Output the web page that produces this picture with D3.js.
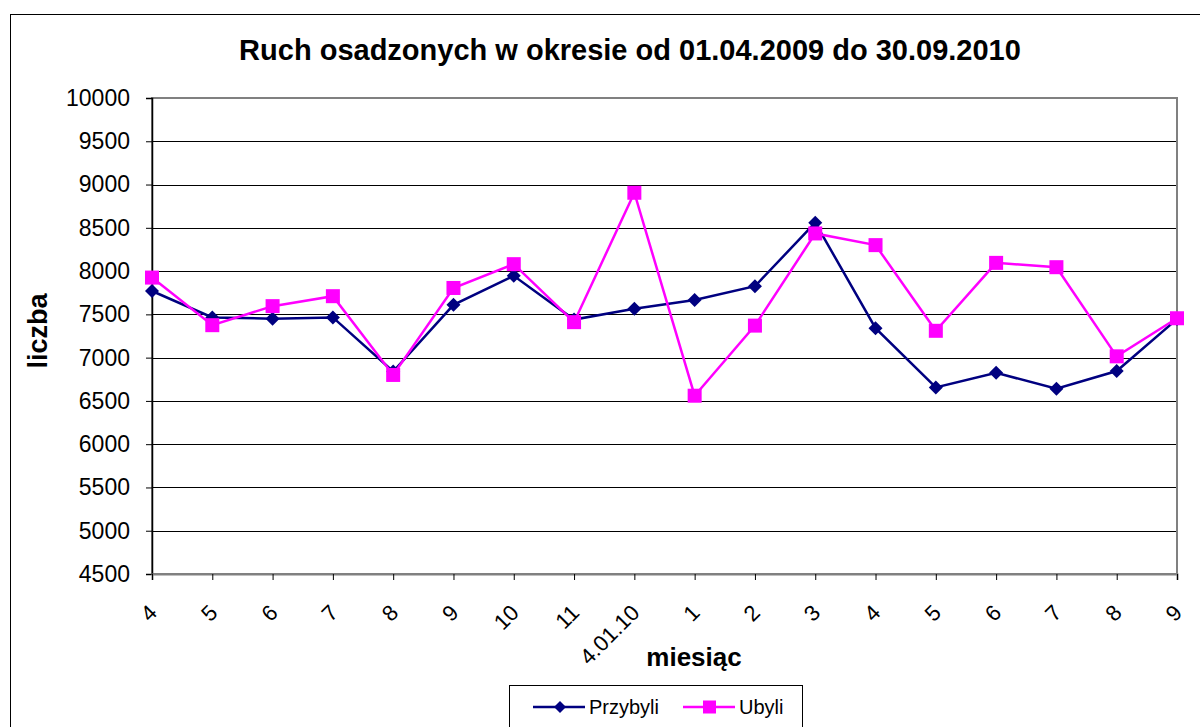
<!DOCTYPE html>
<html>
<head>
<meta charset="utf-8">
<script src="https://cdn.jsdelivr.net/npm/d3@7"></script>
<style>
  body { margin: 0; background: #fff; }
  svg text { font-family: "Liberation Sans", Arial, sans-serif; }
</style>
</head>
<body>
<div id="chart"></div>
<script>
(function () {

  // months, 04.2009 - 09.2010
  var months = ["4", "5", "6", "7", "8", "9", "10", "11", "4.01.10", "1", "2", "3", "4", "5", "6", "7", "8", "9"]
  var przybyli = [7770, 7465, 7450, 7465, 6840, 7610, 7945, 7440, 7565, 7665, 7825, 8560, 7340, 6655, 6825, 6640, 6845, 7445]
  var ubyli = [7925, 7375, 7595, 7710, 6800, 7805, 8080, 7410, 8905, 6560, 7370, 8435, 8300, 7310, 8095, 8045, 7015, 7455]
  var yTicks = [4500, 5000, 5500, 6000, 6500, 7000, 7500, 8000, 8500, 9000, 9500, 10000]

  var margin = { top: 98, left: 152, right: 23, bottom: 153 },
      width = 1200 - margin.left - margin.right,
      height = 727 - margin.top - margin.bottom

  var svg = d3.select("#chart")
      .append("svg")
      .attr("width", 1200)
      .attr("height", 727)

  // outer frame
  svg.append("rect")
     .attr("x", 10.5)
     .attr("y", 14.5)
     .attr("width", 1200)
     .attr("height", 800)
     .attr("fill", "none")
     .attr("stroke", "#000")
     .attr("stroke-width", 1)

  var g = svg.append("g")
      .attr("transform", "translate(" + margin.left + "," + margin.top + ")")

  var xPositionScale = d3.scalePoint()
    .domain(d3.range(months.length))
    .range([0, width])

  var yPositionScale = d3.scaleLinear()
    .domain([4500, 10000])
    .range([height, 0])

  // gridlines
  g.selectAll(".grid")
    .data(yTicks.slice(1))
    .enter().append("line")
    .attr("class", "grid")
    .attr("x1", 0)
    .attr("x2", width)
    .attr("y1", function (d) { return Math.round(yPositionScale(d)) + 0.5 })
    .attr("y2", function (d) { return Math.round(yPositionScale(d)) + 0.5 })
    .attr("stroke", "#000")
    .attr("stroke-width", 1)

  // plot frame
  g.append("rect")
    .attr("x", 0)
    .attr("y", 0)
    .attr("width", width)
    .attr("height", height)
    .attr("fill", "none")
    .attr("stroke", "#808080")
    .attr("stroke-width", 2)

  var yAxis = d3.axisLeft(yPositionScale)
    .tickValues(yTicks)
    .tickSize(6)
    .tickPadding(16)
    .tickFormat(d3.format("d"))

  g.append("g")
    .attr("class", "axis y-axis")
    .call(yAxis)
    .call(function (a) {
      a.select(".domain").attr("stroke", "#000").attr("stroke-width", 1.5)
      a.selectAll("text").style("font-size", "23px").attr("fill", "#000")
    })

  var xAxis = d3.axisBottom(xPositionScale)
    .tickSize(6)
    .tickFormat(function (i) { return months[i] })

  g.append("g")
    .attr("class", "axis x-axis")
    .attr("transform", "translate(0," + height + ")")
    .call(xAxis)
    .call(function (a) {
      a.select(".domain").attr("stroke", "#808080").attr("stroke-width", 2)
      a.selectAll("line").attr("stroke", "#000")
      a.selectAll("text")
        .style("font-size", "22px")
        .attr("fill", "#000")
        .attr("text-anchor", "end")
        .attr("y", 0)
        .attr("dy", 0)
        .attr("transform", "translate(6,40) rotate(-45)")
    })

  var line = d3.line()
    .x(function (d, i) { return xPositionScale(i) })
    .y(function (d) { return yPositionScale(d) })

  // Przybyli
  g.append("path")
    .datum(przybyli)
    .attr("d", line)
    .attr("fill", "none")
    .attr("stroke", "#000080")
    .attr("stroke-width", 2.5)

  g.selectAll(".diamond")
    .data(przybyli)
    .enter().append("path")
    .attr("class", "diamond")
    .attr("d", "M0,-7L7,0L0,7L-7,0Z")
    .attr("transform", function (d, i) {
      return "translate(" + xPositionScale(i) + "," + yPositionScale(d) + ")"
    })
    .attr("fill", "#000080")

  // Ubyli
  g.append("path")
    .datum(ubyli)
    .attr("d", line)
    .attr("fill", "none")
    .attr("stroke", "#ff00ff")
    .attr("stroke-width", 2.5)

  g.selectAll(".square")
    .data(ubyli)
    .enter().append("rect")
    .attr("class", "square")
    .attr("x", function (d, i) { return xPositionScale(i) - 7 })
    .attr("y", function (d) { return yPositionScale(d) - 7 })
    .attr("width", 14)
    .attr("height", 14)
    .attr("fill", "#ff00ff")

  // titles
  svg.append("text")
    .text("Ruch osadzonych w okresie od 01.04.2009 do 30.09.2010")
    .attr("x", 630)
    .attr("y", 60)
    .attr("text-anchor", "middle")
    .style("font-size", "29px")
    .style("font-weight", "bold")

  svg.append("text")
    .text("liczba")
    .attr("transform", "translate(47,331) rotate(-90)")
    .attr("text-anchor", "middle")
    .style("font-size", "27px")
    .style("font-weight", "bold")

  svg.append("text")
    .text("miesiąc")
    .attr("x", 694)
    .attr("y", 666)
    .attr("text-anchor", "middle")
    .style("font-size", "26px")
    .style("font-weight", "bold")

  // legend
  var legend = svg.append("g")
    .attr("transform", "translate(509,685)")

  legend.append("rect")
    .attr("x", 0.5)
    .attr("y", 0.5)
    .attr("width", 293)
    .attr("height", 80)
    .attr("fill", "#fff")
    .attr("stroke", "#000")
    .attr("stroke-width", 1)

  var items = [
    { name: "Przybyli", color: "#000080", shape: "diamond", x: 24 },
    { name: "Ubyli", color: "#ff00ff", shape: "square", x: 174 }
  ]

  items.forEach(function (it) {
    legend.append("line")
      .attr("x1", it.x)
      .attr("x2", it.x + 52)
      .attr("y1", 22)
      .attr("y2", 22)
      .attr("stroke", it.color)
      .attr("stroke-width", 2.5)
    if (it.shape === "diamond") {
      legend.append("path")
        .attr("d", "M0,-6L6,0L0,6L-6,0Z")
        .attr("transform", "translate(" + (it.x + 27) + ",22)")
        .attr("fill", it.color)
    } else {
      legend.append("rect")
        .attr("x", it.x + 20)
        .attr("y", 15.5)
        .attr("width", 13)
        .attr("height", 13)
        .attr("fill", it.color)
    }
    legend.append("text")
      .text(it.name)
      .attr("x", it.x + 56)
      .attr("y", 29)
      .style("font-size", "20px")
  })

})()
</script>
</body>
</html>
